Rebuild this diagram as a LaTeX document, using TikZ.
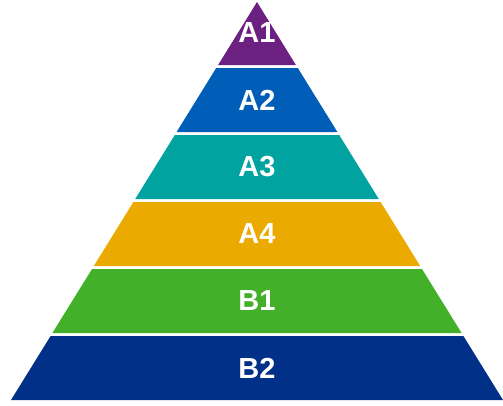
\documentclass[tikz,border=0pt]{standalone}
\usepackage{fontspec}
\setmainfont{Liberation Sans}
\definecolor{layerA1}{RGB}{107,32,130}
\definecolor{layerA2}{RGB}{0,94,184}
\definecolor{layerA3}{RGB}{0,163,160}
\definecolor{layerA4}{RGB}{234,170,0}
\definecolor{layerB1}{RGB}{67,176,42}
\definecolor{layerB2}{RGB}{0,48,135}
\begin{document}
\begin{tikzpicture}[
        x=1pt, y=-1pt, % pixel-like units, y grows downwards
        layer/.style={draw=none},
        every node/.style={font=\fontsize{29}{34}\selectfont\bfseries, text=white, inner sep=0pt}
    ]
    \useasboundingbox (0,0) rectangle (503,405);
    % Layers, top to bottom
    \fill[layer, layerA1] (257,2) -- (295.9,65) -- (218.1,65) -- cycle;
    \fill[layer, layerA2] (216.2,68) -- (297.8,68) -- (337.4,132) -- (176.6,132) -- cycle;
    \fill[layer, layerA3] (174.8,135) -- (339.2,135) -- (378.8,199) -- (135.2,199) -- cycle;
    \fill[layer, layerA4] (133.4,202) -- (380.6,202) -- (420.2,266) -- (93.8,266) -- cycle;
    \fill[layer, layerB1] (92,269) -- (422,269) -- (461.6,333) -- (52.4,333) -- cycle;
    \fill[layer, layerB2] (50.6,336) -- (463.4,336) -- (503,400) -- (11,400) -- cycle;
    % Labels
    \node (a1) at (257,33) {A1};
    \node (a2) at (257,100) {A2};
    \node (a3) at (257,167) {A3};
    \node (a4) at (257,234) {A4};
    \node (b1) at (257,301) {B1};
    \node (b2) at (257,368) {B2};
\end{tikzpicture}
\end{document}
